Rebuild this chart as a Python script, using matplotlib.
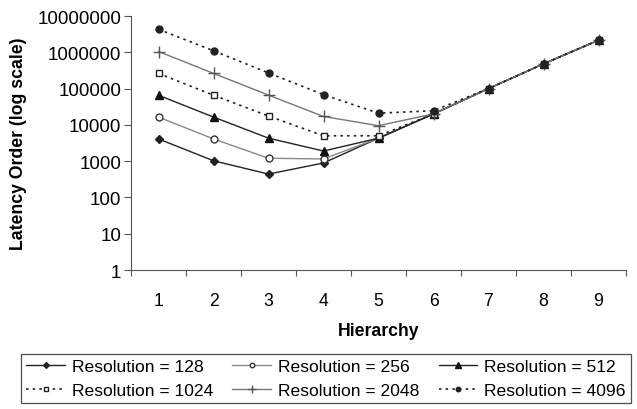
import matplotlib
matplotlib.use("Agg")
import matplotlib.pyplot as plt
from matplotlib.ticker import FixedLocator, NullLocator, FuncFormatter

plt.rcParams['font.family'] = ['Liberation Sans', 'DejaVu Sans']

hierarchy = [1, 2, 3, 4, 5, 6, 7, 8, 9]
res128 = [4096, 1024, 440, 890, 4300, 20000, 100000, 480000, 2150000]
res256 = [16384, 4096, 1200, 1150, 4300, 20000, 100000, 480000, 2150000]
res512 = [65536, 16384, 4300, 1900, 4300, 20000, 100000, 480000, 2150000]
res1024 = [262144, 65536, 17500, 5000, 5000, 20000, 100000, 480000, 2150000]
res2048 = [1048576, 262144, 66000, 17000, 9500, 20000, 100000, 480000, 2150000]
res4096 = [4300000, 1100000, 270000, 68000, 21000, 24500, 100000, 480000, 2150000]

labels = ["Resolution = 128", "Resolution = 256", "Resolution = 512",
          "Resolution = 1024", "Resolution = 2048", "Resolution = 4096"]
yticks = [1, 10, 100, 1000, 10000, 100000, 1000000, 10000000]

fig = plt.figure(figsize=(6.37, 4.10), dpi=100)
ax = fig.add_axes([131 / 637, 1 - 271 / 410, 495 / 637, 254 / 410])

dots = (0, (1.5, 2.5))
h = []
h += ax.plot(hierarchy, res128, color='#222222', lw=1, ls='-', marker='D',
             mfc='#222222', mec='#222222', ms=4.5, label=labels[0])
h += ax.plot(hierarchy, res256, color='#888888', lw=1, ls='-', marker='o',
             mfc='white', mec='#333333', ms=5, label=labels[1])
h += ax.plot(hierarchy, res512, color='#222222', lw=1, ls='-', marker='^',
             mfc='#111111', mec='#111111', ms=6, label=labels[2])
h += ax.plot(hierarchy, res1024, color='#222222', lw=1.2, ls=dots,
             marker='s', mfc='white', mec='#222222', ms=5, label=labels[3])
h += ax.plot(hierarchy, res2048, color='#777777', lw=1, ls='-', marker='+',
             mec='#555555', ms=9, mew=1, label=labels[4])
h += ax.plot(hierarchy, res4096, color='#222222', lw=1.2, ls=dots,
             marker='o', mfc='#222222', mec='#222222', ms=5, label=labels[5])

ax.set_yscale('log')
ax.set_ylim(1, 10000000)
ax.set_xlim(0.5, 9.5)
ax.yaxis.set_major_locator(FixedLocator(yticks))
ax.yaxis.set_minor_locator(NullLocator())
ax.yaxis.set_major_formatter(FuncFormatter(lambda v, p: "%d" % round(v)))

# category axis: tick marks between categories, labels at the centres
ax.set_xticks([k + 0.5 for k in [0] + hierarchy])
ax.set_xticklabels([])
ax.set_xticks(hierarchy, minor=True)
ax.set_xticklabels([str(k) for k in hierarchy], minor=True)
ax.tick_params(axis='x', which='minor', length=0, pad=15.5, labelsize=12.7)
ax.tick_params(axis='x', which='major', length=4.5, direction='out', color='#555555')
ax.tick_params(axis='y', length=5, direction='out', labelsize=13.5, pad=2,
               color='#555555')

for s in ['top', 'right']:
    ax.spines[s].set_visible(False)
ax.spines['left'].set_color('#555555')
ax.spines['bottom'].set_color('#555555')

ax.set_xlabel("Hierarchy", fontsize=12.7, fontweight='bold', labelpad=9.5)
ax.set_ylabel("Latency Order (log scale)", fontsize=12.7, fontweight='bold')
ax.yaxis.set_label_coords(-(131 - 27) / 495, 0.5)

order = [0, 3, 1, 4, 2, 5]
leg = fig.legend([h[i] for i in order], [labels[i] for i in order],
                 loc='upper left', bbox_to_anchor=(21 / 637, 1 - 355 / 410),
                 ncol=3, fontsize=12.6, frameon=True, fancybox=False,
                 edgecolor='#222222', handlelength=2.2, markerscale=0.65,
                 columnspacing=1.1, handletextpad=0.4, borderpad=0.3,
                 labelspacing=0.45, borderaxespad=0)
leg.get_frame().set_linewidth(0.9)

fig.savefig("out.png", dpi=100)
